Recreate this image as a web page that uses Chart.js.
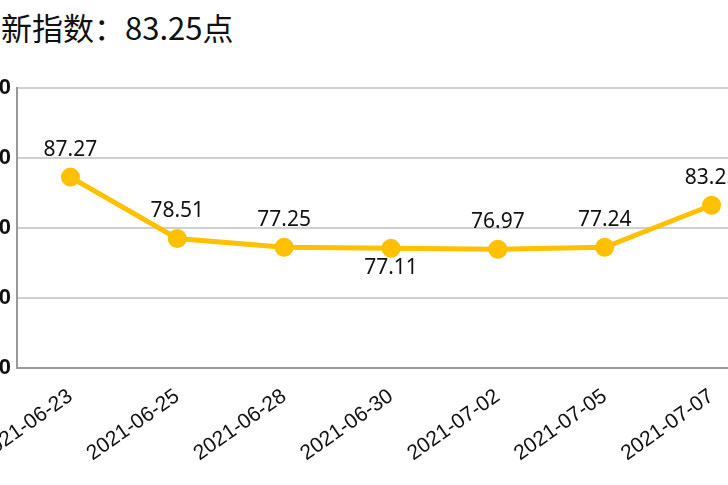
<!DOCTYPE html>
<html><head><meta charset="utf-8">
<script src="https://cdn.jsdelivr.net/npm/chart.js@4/dist/chart.umd.min.js"></script>
<style>
body{margin:0;width:728px;height:485px;overflow:hidden;background:#fff;position:relative;font-family:"Noto Sans CJK SC","Noto Sans",sans-serif}
#t{position:absolute;left:-30px;top:4px;font-size:31px;color:#111;white-space:nowrap}
#w{position:absolute;left:-60px;top:0;width:860px;height:485px}
</style></head><body>
<div id="t">最新指数：83.25点</div>
<div id="w"><canvas id="c"></canvas></div>
<script>
const dates = ['2021-06-23','2021-06-25','2021-06-28','2021-06-30','2021-07-02','2021-07-05','2021-07-07'];
const values = [87.27, 78.51, 77.25, 77.11, 76.97, 77.24, 83.25];
const below = [false, false, false, true, false, false, false];

const labelPlugin = {
  id: 'vals',
  afterDatasetsDraw(chart) {
    const ctx = chart.ctx;
    const meta = chart.getDatasetMeta(0);
    ctx.save();
    ctx.font = '21px "Noto Sans", sans-serif';
    ctx.fillStyle = '#111';
    ctx.textAlign = 'center';
    meta.data.forEach((p, i) => {
      if (below[i]) { ctx.textBaseline = 'top'; ctx.fillText(values[i].toFixed(2), p.x, p.y + 9); }
      else { ctx.textBaseline = 'bottom'; ctx.fillText(values[i].toFixed(2), p.x, p.y - 17); }
    });
    ctx.restore();
  }
};

new Chart('c', {
  type: 'line',
  data: {
    labels: dates,
    datasets: [{
      data: values,
      borderColor: '#FFC000',
      backgroundColor: '#FFC000',
      borderWidth: 5,
      pointRadius: 7,
      fill: false,
    }],
  },
  options: {
    responsive: true,
    maintainAspectRatio: false,
    animation: false,
    layout: { padding: { top: 88, right: 35 } },
    plugins: { legend: { display: false }, tooltip: { enabled: false } },
    scales: {
      x: {
        offset: true,
        grid: { display: false },
        border: { color: '#999', width: 2 },
        ticks: { color: '#111', font: { size: 21 }, maxRotation: 35, minRotation: 35, padding: 8 },
        afterFit(s) { s.height = 117; },
      },
      y: {
        min: 60, max: 100,
        grid: { color: '#d0d0d0', lineWidth: 2, drawTicks: false },
        border: { color: '#999', width: 2 },
        ticks: { stepSize: 10, color: '#111', font: { size: 22, weight: 'bold' }, padding: 6 },
        afterFit(s) { s.width = 77; },
      },
    },
  },
  plugins: [labelPlugin],
});
</script>
</body></html>
